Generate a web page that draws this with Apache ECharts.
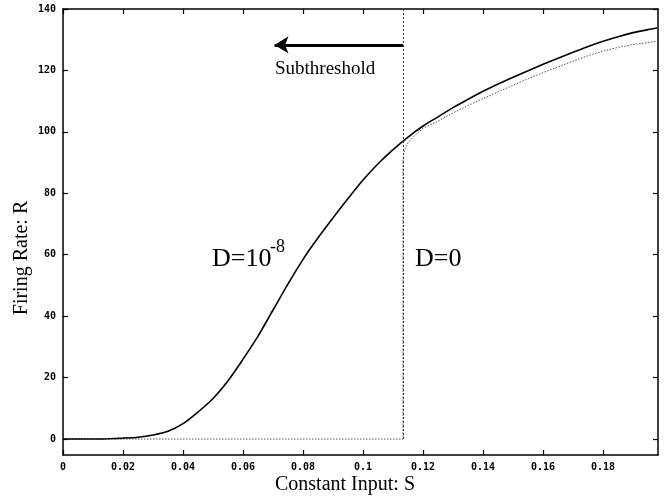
<!DOCTYPE html>
<html>
<head>
<meta charset="utf-8">
<script src="https://cdn.jsdelivr.net/npm/echarts@6/dist/echarts.min.js"></script>
<style>html,body{margin:0;padding:0;background:#fff;}#c{width:672px;height:496px;}</style>
</head>
<body>
<div id="c"></div>
<script>
// Data
const sValues = [0,0.005,0.01,0.015,0.02,0.025,0.03,0.035,0.04,0.045,0.05,0.055,0.06,0.065,0.07,0.075,0.08,0.085,0.09,0.095,0.1,0.105,0.11,0.115,0.12,0.125,0.13,0.135,0.14,0.145,0.15,0.155,0.16,0.165,0.17,0.175,0.18,0.185,0.19,0.195,0.198];
const rateNoise = [0,0,0,0.1,0.3,0.6,1.3,2.5,5,8.8,13.2,19,26,33.5,42,50.5,58.5,65.5,72,78.3,84.3,89.6,94.2,98.3,101.9,104.9,107.9,110.6,113.2,115.6,117.8,119.9,122,124,125.9,127.8,129.5,131,132.3,133.3,133.8];
const sZero = [0,0.05,0.1133,0.1133,0.1135,0.114,0.115,0.1168,0.12,0.125,0.13,0.135,0.14,0.145,0.15,0.155,0.16,0.165,0.17,0.175,0.18,0.185,0.19,0.195,0.198];
const rateZero = [0,0,0,90.8,92.5,94.5,96.5,98.4,101.2,103.5,106.2,108.6,110.8,113,115.2,117.3,119.3,121.2,123,124.8,126.3,127.5,128.4,129.1,129.5];
const xTicks = [0,0.02,0.04,0.06,0.08,0.1,0.12,0.14,0.16,0.18];
const yTicks = [0,20,40,60,80,100,120,140];
const threshold = 0.1133;
const arrowFrom = [0.1133,128.3];
const arrowTo = [0.0705,128.3];

const chart = echarts.init(document.getElementById('c'));
const tickFont = {fontFamily:'DejaVu Sans Mono', fontWeight:'bold', fontSize:10, color:'#000'};
function xAx(pos, showLabel){
  return {type:'value', position:pos, min:0, max:0.1983,
    axisLine:{show:true, onZero:false, lineStyle:{color:'#000', width:1.5}},
    axisTick:{show:true, inside:true, length:5, customValues:xTicks, lineStyle:{color:'#000', width:1.2}},
    axisLabel:{show:showLabel, customValues:xTicks, margin:7, ...tickFont},
    splitLine:{show:false}};
}
function yAx(pos, showLabel){
  return {type:'value', position:pos, min:-5.2, max:140,
    axisLine:{show:true, onZero:false, lineStyle:{color:'#000', width:1.5}},
    axisTick:{show:true, inside:true, length:5, customValues:yTicks, lineStyle:{color:'#000', width:1.2}},
    axisLabel:{show:showLabel, customValues:yTicks, margin:7, ...tickFont},
    splitLine:{show:false}};
}
chart.setOption({
  animation:false,
  backgroundColor:'#fff',
  grid:{left:63, right:14, top:9, bottom:41},
  xAxis:[xAx('bottom', true), xAx('top', false)],
  yAxis:[yAx('left', true), yAx('right', false)],
  series:[
    {type:'line', name:'D=0', data:sZero.map((s,i)=>[s,rateZero[i]]), showSymbol:false,
     lineStyle:{color:'#555', width:1, type:[1.5,1.5]}, z:2,
     markLine:{silent:true, symbol:['none','none'], label:{show:false},
       lineStyle:{color:'#333', width:1, type:[2,2]},
       data:[[{coord:[threshold,0]},{coord:[threshold,140]}]]}},
    {type:'line', name:'D=1e-8', data:sValues.map((s,i)=>[s,rateNoise[i]]), showSymbol:false, smooth:0.3,
     lineStyle:{color:'#000', width:1.6}, z:3,
     markLine:{silent:true, symbol:['none','arrow'], symbolSize:[13,14], label:{show:false},
       lineStyle:{color:'#000', width:3.2, type:'solid'},
       data:[[{coord:arrowFrom},{coord:arrowTo}]]}}
  ],
  graphic:[
    {type:'text', left:275, top:60, style:{text:'Subthreshold', font:'19px "Liberation Serif"', fill:'#000'}},
    {type:'text', x:212, y:259, style:{text:'D=10', font:'26px "Liberation Serif"', fill:'#000', verticalAlign:'middle'}},
    {type:'text', x:270, y:247, style:{text:'-8', font:'18px "Liberation Serif"', fill:'#000', verticalAlign:'middle'}},
    {type:'text', x:415, y:259, style:{text:'D=0', font:'26px "Liberation Serif"', fill:'#000', verticalAlign:'middle'}},
    {type:'text', x:345, y:485, style:{text:'Constant Input: S', font:'20px "Liberation Serif"', fill:'#000', align:'center', verticalAlign:'middle'}},
    {type:'text', x:22, y:258, rotation:Math.PI/2, style:{text:'Firing Rate: R', font:'20px "Liberation Serif"', fill:'#000', align:'center', verticalAlign:'middle'}}
  ]
});
</script>
</body>
</html>
